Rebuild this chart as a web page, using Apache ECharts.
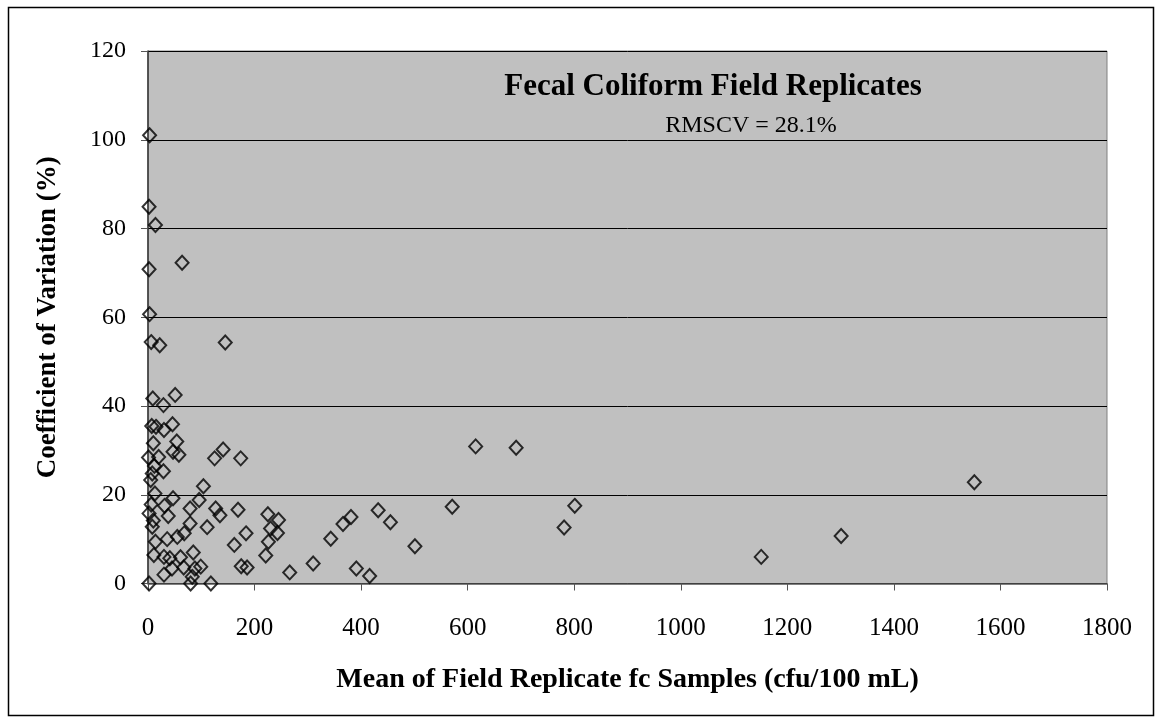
<!DOCTYPE html>
<html>
<head>
<meta charset="utf-8">
<script src="https://cdn.jsdelivr.net/npm/echarts@6/dist/echarts.min.js"></script>
<style>
  html, body { margin: 0; padding: 0; background: #ffffff; }
  #chart { width: 1161px; height: 723px; }
</style>
</head>
<body>
<div id="chart"></div>
<script>
// Mean of field replicate fc samples (cfu/100 mL)
const meanValues = [
  3, 2, 14, 2, 64, 3, 6, 22, 145,
  9, 29, 51, 7, 15, 46, 30, 54, 10,
  1, 20, 47, 58, 125, 141, 174,
  12, 29, 8, 5, 104, 13, 47, 96,
  6, 31, 79, 127, 2, 38, 135, 169,
  10, 8, 79, 111, 14, 36, 55, 68, 162, 184,
  11, 30, 41, 61, 85,
  30, 45, 67, 88, 99, 83,
  2, 80, 118,
  225, 245, 230, 243, 226, 221, 175, 186, 266, 310, 343, 366, 381, 391, 416, 432,
  455, 501, 571, 615, 691, 781, 801, 1151, 1301, 1551
];
// Coefficient of variation (%)
const cvValues = [
  101, 84.9, 80.8, 70.8, 72.3, 60.7, 54.4, 53.7, 54.3,
  41.7, 40.2, 42.5, 35.5, 35.3, 35.9, 34.6, 32.0, 31.6,
  28.4, 28.5, 29.7, 29.0, 28.2, 30.2, 28.2,
  26.5, 25.3, 24.8, 23.3, 21.9, 20.3, 19.2, 18.8,
  17.8, 17.5, 16.9, 16.9, 15.8, 15.2, 15.4, 16.6,
  14.2, 12.8, 13.5, 12.7, 9.4, 10.0, 10.5, 11.3, 8.7, 11.3,
  6.4, 6.0, 5.7, 5.9, 7.0,
  2.0, 3.4, 3.6, 3.4, 3.8, 1.5,
  0, 0, 0,
  15.6, 14.3, 12.4, 11.4, 9.4, 6.3, 3.9, 3.6, 2.5, 4.5, 10.1, 13.4, 15.0, 3.4, 1.7, 16.5,
  13.8, 8.4, 17.3, 30.9, 30.6, 12.6, 17.5, 6.0, 10.7, 22.8
];
const xTicks = [0, 200, 400, 600, 800, 1000, 1200, 1400, 1600, 1800];
const yTicks = [0, 20, 40, 60, 80, 100, 120];
const chartTitle = 'Fecal Coliform Field Replicates';
const subTitle = 'RMSCV = 28.1%';
const xName = 'Mean of Field Replicate fc Samples (cfu/100 mL)';
const yName = 'Coefficient of Variation (%)';

const points = meanValues.map((x, i) => [x, cvValues[i]]);
const FONT = '"Liberation Serif", "Times New Roman", serif';

const chart = echarts.init(document.getElementById('chart'), null, { renderer: 'canvas' });
chart.setOption({
  backgroundColor: '#ffffff',
  animation: false,
  grid: {
    left: 148, top: 51, right: 54, bottom: 139.5,
    show: true, backgroundColor: '#c0c0c0', borderColor: '#808080', borderWidth: 1
  },
  graphic: [
    { type: 'rect', shape: { x: 8.5, y: 7.5, width: 1145, height: 708 },
      style: { fill: 'none', stroke: '#000', lineWidth: 1.5 }, z: 100 },
    { type: 'text', x: 713, y: 87, z: 100,
      style: { text: chartTitle, font: 'bold 31px ' + FONT, fill: '#000',
               textAlign: 'center', textVerticalAlign: 'middle' } },
    { type: 'text', x: 751, y: 126, z: 100,
      style: { text: subTitle, font: '24px ' + FONT, fill: '#000',
               textAlign: 'center', textVerticalAlign: 'middle' } }
  ],
  xAxis: {
    type: 'value', min: xTicks[0], max: xTicks[xTicks.length - 1], interval: 200,
    name: xName, nameLocation: 'middle', nameGap: 82,
    nameTextStyle: { fontFamily: FONT, fontWeight: 'bold', fontSize: 28, color: '#000' },
    axisLine: { show: true, onZero: false, lineStyle: { color: '#555', width: 1.5 } },
    axisTick: { show: true, length: 7, lineStyle: { color: '#555' } },
    axisLabel: { fontFamily: FONT, fontSize: 25, color: '#000', margin: 32,
                 formatter: v => String(v) },
    splitLine: { show: false }
  },
  yAxis: {
    type: 'value', min: yTicks[0], max: yTicks[yTicks.length - 1], interval: 20,
    name: yName, nameLocation: 'middle', nameGap: 86, nameRotate: 90,
    nameTextStyle: { fontFamily: FONT, fontWeight: 'bold', fontSize: 27, color: '#000' },
    axisLine: { show: true, onZero: false, lineStyle: { color: '#333', width: 1.5 } },
    axisTick: { show: true, length: 7, lineStyle: { color: '#555' } },
    axisLabel: { fontFamily: FONT, fontSize: 24, color: '#000', margin: 22,
                 formatter: v => String(v) },
    splitLine: { show: true, lineStyle: { color: '#000', width: 1 } }
  },
  series: [{
    type: 'scatter',
    data: points,
    symbol: 'diamond',
    symbolSize: [13, 14],
    itemStyle: { color: 'rgba(0,0,0,0)', borderColor: '#000', borderWidth: 2 },
    clip: false
  }]
});
</script>
</body>
</html>
